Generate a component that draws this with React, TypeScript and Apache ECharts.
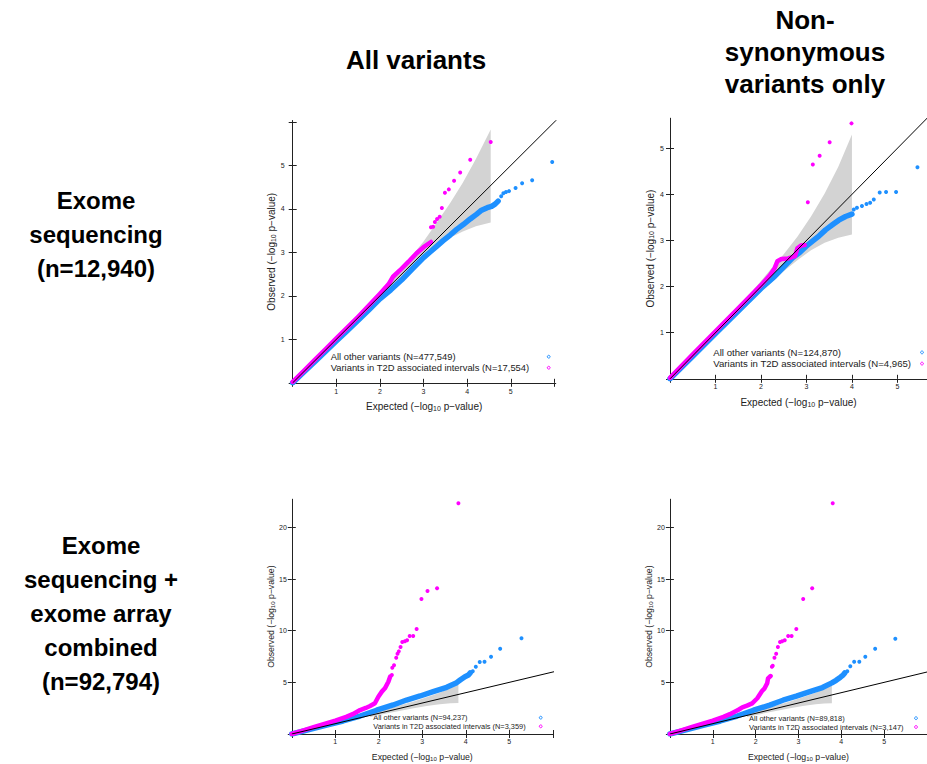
import React, { useEffect, useRef } from "react";
import * as echarts from "echarts";

// ---------- DATA ----------
// identity reference line y = x
const identityLine = [[0, 0], [30, 30]];

// Panel 1: Exome sequencing, all variants
const p1BlueDense = [[0,0],[0.25,0.24],[0.5,0.48],[0.75,0.72],[1.0,0.96],[1.25,1.2],[1.5,1.44],[1.75,1.68],[2.0,1.93],[2.25,2.14],[2.5,2.37],[2.75,2.63],[3.0,2.88],[3.15,3.01],[3.3,3.14],[3.45,3.27],[3.61,3.40],[3.76,3.53],[3.91,3.64],[4.07,3.77],[4.22,3.88],[4.33,3.97],[4.46,4.03],[4.56,4.06],[4.64,4.11],[4.71,4.18]];
const p1BlueSparse = [[4.78,4.29],[4.83,4.36],[4.89,4.39],[4.96,4.41],[5.11,4.48],[5.26,4.59],[5.49,4.66],[5.95,5.08]];
const p1MagDense = [[0,0.02],[0.25,0.27],[0.5,0.52],[0.75,0.77],[1.0,1.02],[1.25,1.27],[1.5,1.52],[1.75,1.78],[2.0,2.05],[2.2,2.27],[2.3,2.44],[2.46,2.59],[2.65,2.78],[2.84,2.98],[3.0,3.12],[3.17,3.24]];
const p1MagSparse = [[3.17,3.58],[3.22,3.59],[3.26,3.70],[3.31,3.77],[3.37,3.82],[3.42,4.02],[3.49,4.37],[3.58,4.45],[3.70,4.65],[3.84,4.84],[4.07,5.13],[4.54,5.54]];
const p1BandUpper = [[1.5,1.56],[2.0,2.08],[2.3,2.42],[2.6,2.76],[3.0,3.25],[3.3,3.68],[3.6,4.12],[3.9,4.6],[4.2,5.15],[4.54,5.83]];
const p1BandLower = [[1.5,1.44],[2.0,1.92],[2.3,2.2],[2.6,2.47],[3.0,2.86],[3.3,3.1],[3.6,3.33],[3.9,3.48],[4.2,3.6],[4.54,3.69]];

// Panel 2: Exome sequencing, non-synonymous variants only
const p2BlueDense = [[0,0],[0.5,0.49],[1.0,0.98],[1.5,1.47],[2.0,1.96],[2.3,2.22],[2.56,2.49],[2.70,2.63],[2.85,2.74],[2.99,2.87],[3.14,2.99],[3.28,3.10],[3.42,3.23],[3.57,3.34],[3.71,3.44],[3.86,3.52],[4.0,3.57]];
const p2BlueSparse = [[4.04,3.67],[4.11,3.71],[4.22,3.75],[4.32,3.79],[4.40,3.82],[4.48,3.89],[4.61,4.04],[4.75,4.05],[4.97,4.05],[5.44,4.59]];
const p2MagDense = [[0,0.02],[0.5,0.53],[1.0,1.03],[1.5,1.53],[2.0,2.03],[2.2,2.25],[2.3,2.4],[2.36,2.55],[2.45,2.6],[2.6,2.61],[2.75,2.66],[2.8,2.83],[2.88,2.89],[2.96,2.9]];
const p2MagSparse = [[3.03,3.83],[3.14,4.65],[3.29,4.84],[3.51,5.13],[3.99,5.54]];
const p2BandUpper = [[1.5,1.55],[1.9,2.0],[2.2,2.36],[2.5,2.7],[2.8,3.08],[3.1,3.52],[3.4,4.02],[3.7,4.6],[4.0,5.3]];
const p2BandLower = [[1.5,1.45],[1.9,1.82],[2.2,2.06],[2.5,2.33],[2.8,2.57],[3.1,2.79],[3.4,2.95],[3.7,3.06],[4.0,3.13]];

// Panel 3: Exome sequencing + exome array, all variants
const p3BlueDense = [[0,0],[0.42,0.45],[0.8,0.87],[1.18,1.26],[1.57,1.74],[1.95,2.30],[2.33,2.81],[2.64,3.29],[2.95,3.68],[3.25,4.10],[3.56,4.52],[3.79,4.97],[3.87,5.23],[3.98,5.55],[4.06,5.71],[4.10,5.91]];
const p3BlueSparse = [[4.16,6.07],[4.23,6.52],[4.32,6.97],[4.43,7.0],[4.58,7.48],[4.79,8.26],[5.28,9.26]];
const p3MagDense = [[0,0],[0.25,0.33],[0.5,0.66],[0.75,0.98],[1.0,1.3],[1.25,1.66],[1.4,1.92],[1.57,2.32],[1.7,2.52],[1.8,2.71],[1.91,2.97],[1.99,3.61],[2.07,4.10],[2.14,4.42],[2.22,5.06],[2.26,5.55]];
const p3MagSparse = [[2.30,5.71],[2.31,6.42],[2.35,6.65],[2.40,7.39],[2.43,7.77],[2.46,8.0],[2.50,8.42],[2.54,8.91],[2.60,8.97],[2.65,9.07],[2.71,9.49],[2.79,9.49],[2.87,10.16],[2.98,13.07],[3.12,13.84],[3.34,14.10],[3.83,22.33]];
const p3BandUpper = [[1.8,1.95],[2.2,2.42],[2.5,2.78],[2.8,3.15],[3.1,3.55],[3.4,4.0],[3.65,4.45],[3.83,4.85]];
const p3BandLower = [[1.8,1.65],[2.2,2.0],[2.5,2.25],[2.8,2.5],[3.1,2.72],[3.4,2.88],[3.65,2.97],[3.83,3.0]];

// Panel 4: Exome sequencing + exome array, non-synonymous only
const p4BlueDense = [[0,0],[0.42,0.45],[0.8,0.87],[1.18,1.26],[1.57,1.74],[1.95,2.30],[2.33,2.8],[2.64,3.27],[2.95,3.66],[3.25,4.08],[3.56,4.5],[3.78,4.95],[3.88,5.2],[3.98,5.5],[4.04,5.7],[4.08,5.91]];
const p4BlueSparse = [[4.14,6.07],[4.21,6.55],[4.30,7.0],[4.42,7.0],[4.56,7.48],[4.79,8.26],[5.26,9.22]];
const p4MagDense = [[0,0],[0.25,0.33],[0.5,0.66],[0.75,0.98],[1.0,1.3],[1.25,1.66],[1.4,1.92],[1.6,2.35],[1.69,2.58],[1.8,2.75],[1.92,2.97],[2.04,3.46],[2.15,4.16],[2.21,4.42],[2.27,4.91],[2.29,5.39],[2.35,5.61]];
const p4MagSparse = [[2.38,6.52],[2.40,6.61],[2.44,7.39],[2.48,7.77],[2.52,8.42],[2.57,8.91],[2.62,8.97],[2.68,9.07],[2.76,9.49],[2.84,9.49],[2.95,10.16],[3.11,13.07],[3.32,14.10],[3.80,22.33]];
const p4BandUpper = [[1.8,1.95],[2.2,2.42],[2.5,2.78],[2.8,3.15],[3.1,3.55],[3.4,4.0],[3.6,4.4],[3.78,4.82]];
const p4BandLower = [[1.8,1.65],[2.2,2.0],[2.5,2.25],[2.8,2.5],[3.1,2.72],[3.4,2.88],[3.6,2.96],[3.78,2.98]];

// Legend texts
const p1Legend = ["All other variants (N=477,549)", "Variants in T2D associated intervals (N=17,554)"];
const p2Legend = ["All other variants (N=124,870)", "Variants in T2D associated intervals (N=4,965)"];
const p3Legend = ["All other variants (N=94,237)", "Variants in T2D associated intervals (N=3,359)"];
const p4Legend = ["All other variants (N=89,818)", "Variants in T2D associated intervals (N=3,147)"];

// Axis ticks
const smallTicks = [0, 1, 2, 3, 4, 5, 6];
const smallLabels = [1, 2, 3, 4, 5];
const bigTicks = [0, 5, 10, 15, 20];
const bigLabels = [5, 10, 15, 20];

// Titles
const colTitles = ["All variants", "Non-\nsynonymous\nvariants only"];
const rowTitles = ["Exome\nsequencing\n(n=12,940)", "Exome\nsequencing +\nexome array\ncombined\n(n=92,794)"];

const BLUE = "#1E90FF";
const MAG = "#FF00FF";
const BAND = "#D3D3D3";
const FONT = "'Liberation Sans', Arial, Helvetica, sans-serif";

// ---------- LAYOUT ----------
const panels = [
  {
    grid: { left: 292.7, top: 120.7, width: 263, height: 262.1 },
    xMax: 6.03, yMax: 6.03, yInt: 1, yTicks: smallTicks, yLabels: smallLabels,
    blueDense: p1BlueDense, blueSparse: p1BlueSparse, magDense: p1MagDense, magSparse: p1MagSparse,
    upper: p1BandUpper, lower: p1BandLower, legend: p1Legend,
    legX: 330.7, legMid: 362.2, legGap: 11, legFs: 9.4, symX: 548.7,
    nameFs: 10, tickFs: 7, xLabMargin: 5, yLabMargin: 8, nameGap: 15,
  },
  {
    grid: { left: 670, top: 118.3, width: 261.3, height: 260.5 },
    xMax: 5.65, yMax: 5.65, yInt: 1, yTicks: smallTicks, yLabels: smallLabels,
    blueDense: p2BlueDense, blueSparse: p2BlueSparse, magDense: p2MagDense, magSparse: p2MagSparse,
    upper: p2BandUpper, lower: p2BandLower, legend: p2Legend,
    legX: 713.3, legMid: 358, legGap: 11.2, legFs: 9.6, symX: 922,
    nameFs: 10, tickFs: 7, xLabMargin: 4.5, yLabMargin: 6, nameGap: 15,
  },
  {
    grid: { left: 291.8, top: 499.3, width: 261, height: 234.7 },
    xMax: 6, yMax: 22.72, yInt: 5, yTicks: bigTicks, yLabels: bigLabels,
    blueDense: p3BlueDense, blueSparse: p3BlueSparse, magDense: p3MagDense, magSparse: p3MagSparse,
    upper: p3BandUpper, lower: p3BandLower, legend: p3Legend,
    legX: 373.3, legMid: 722, legGap: 8.7, legFs: 7.4, symX: 540.7,
    nameFs: 8.7, tickFs: 7, xLabMargin: 3.5, yLabMargin: 5, nameGap: 15,
  },
  {
    grid: { left: 669.9, top: 499.3, width: 260.4, height: 234.7 },
    xMax: 6, yMax: 22.72, yInt: 5, yTicks: bigTicks, yLabels: bigLabels,
    blueDense: p4BlueDense, blueSparse: p4BlueSparse, magDense: p4MagDense, magSparse: p4MagSparse,
    upper: p4BandUpper, lower: p4BandLower, legend: p4Legend,
    legX: 749, legMid: 722.6, legGap: 8.8, legFs: 7.5, symX: 916,
    nameFs: 8.7, tickFs: 7, xLabMargin: 3.5, yLabMargin: 5, nameGap: 15,
  },
];

function richName(prefix: string, suffix: string, fs: number) {
  return {
    text: `{n|${prefix}}{s|10}{n|${suffix}}`,
    rich: {
      n: { fontSize: fs, lineHeight: fs + 4, verticalAlign: "bottom", fontFamily: FONT, color: "#222" },
      s: { fontSize: fs * 0.7, lineHeight: fs * 0.8, verticalAlign: "bottom", fontFamily: FONT, color: "#222" },
    },
  };
}

function buildOption() {
  const grids: any[] = [];
  const xAxes: any[] = [];
  const yAxes: any[] = [];
  const series: any[] = [];
  const graphics: any[] = [];

  panels.forEach((p, i) => {
    grids.push({ ...p.grid, containLabel: false });
    const axisLine = { show: true, lineStyle: { color: "#222", width: 1 } };
    const tickStyle = { lineStyle: { color: "#222", width: 1 } };
    const xName = richName("Expected (−log", " p−value)", p.nameFs);
    const yName = richName("Observed (−log", " p−value)", p.nameFs);
    // bottom x
    xAxes.push({
      type: "value", gridIndex: i, min: 0, max: p.xMax, interval: 1, position: "bottom",
      axisLine, splitLine: { show: false },
      axisTick: { show: true, length: 4, inside: false, ...tickStyle, customValues: smallTicks },
      axisLabel: {
        show: true, fontSize: p.tickFs, color: "#222", fontFamily: FONT, margin: p.xLabMargin,
        customValues: smallLabels,
        formatter: (v: number) => (smallLabels.indexOf(v) >= 0 ? String(v) : ""),
      },
      name: xName.text, nameLocation: "middle", nameGap: p.nameGap,
      nameTextStyle: { rich: xName.rich, fontFamily: FONT, color: "#222" },
    });
    // top x
    xAxes.push({
      type: "value", gridIndex: i, min: 0, max: p.xMax, interval: 1, position: "top",
      axisLine, splitLine: { show: false },
      axisTick: { show: true, length: 4, inside: false, ...tickStyle, customValues: smallTicks },
      axisLabel: { show: false },
    });
    // left y
    yAxes.push({
      type: "value", gridIndex: i, min: 0, max: p.yMax, interval: p.yInt, position: "left",
      axisLine, splitLine: { show: false },
      axisTick: { show: true, length: 4, inside: false, ...tickStyle, customValues: p.yTicks },
      axisLabel: {
        show: true, fontSize: p.tickFs, color: "#222", fontFamily: FONT, margin: p.yLabMargin,
        customValues: p.yLabels,
        formatter: (v: number) => (p.yLabels.indexOf(v) >= 0 ? String(v) : ""),
      },
      name: yName.text, nameLocation: "middle", nameGap: p.nameGap,
      nameTextStyle: { rich: yName.rich, fontFamily: FONT, color: "#222" },
    });
    // right y
    yAxes.push({
      type: "value", gridIndex: i, min: 0, max: p.yMax, interval: p.yInt, position: "right",
      axisLine, splitLine: { show: false },
      axisTick: { show: true, length: 4, inside: false, ...tickStyle, customValues: p.yTicks },
      axisLabel: { show: false },
    });

    const xi = i * 2;
    const yi = i * 2;
    const upper = p.upper;
    const lower = p.lower;
    series.push({
      type: "custom", xAxisIndex: xi, yAxisIndex: yi, clip: true, z: 1, silent: true,
      data: upper, encode: { x: 0, y: 1 },
      renderItem: (params: any, api: any) => {
        if (params.dataIndex !== 0) return null;
        const pts = [...upper, ...lower.slice().reverse()].map((d) => api.coord(d));
        return { type: "polygon", shape: { points: pts }, style: { fill: BAND, stroke: "none" } };
      },
    });
    series.push({
      type: "line", name: p.legend[0], xAxisIndex: xi, yAxisIndex: yi, data: p.blueDense,
      showSymbol: false, symbol: "none", z: 3, clip: true,
      lineStyle: { color: BLUE, width: 5.5, cap: "round", join: "round" },
    });
    series.push({
      type: "scatter", name: p.legend[0], xAxisIndex: xi, yAxisIndex: yi, data: p.blueSparse,
      symbol: "circle", symbolSize: 4, z: 3, itemStyle: { color: BLUE, opacity: 1 },
    });
    series.push({
      type: "line", name: p.legend[1], xAxisIndex: xi, yAxisIndex: yi, data: p.magDense,
      showSymbol: false, symbol: "none", z: 4, clip: true,
      lineStyle: { color: MAG, width: 4.5, cap: "round", join: "round" },
    });
    series.push({
      type: "scatter", name: p.legend[1], xAxisIndex: xi, yAxisIndex: yi, data: p.magSparse,
      symbol: "circle", symbolSize: 4, z: 4, itemStyle: { color: MAG, opacity: 1 },
    });
    series.push({
      type: "line", xAxisIndex: xi, yAxisIndex: yi, data: identityLine,
      showSymbol: false, symbol: "none", z: 5, clip: true, silent: true,
      lineStyle: { color: "#000", width: 1 },
    });

    // legend: text lines + open circle markers
    p.legend.forEach((t, k) => {
      const cy = p.legMid + (k - 0.5) * p.legGap;
      graphics.push({
        type: "text", x: p.legX, y: cy, silent: true,
        style: {
          text: t, fontSize: p.legFs, fontFamily: FONT, fill: "#222",
          align: "left", verticalAlign: "middle",
        },
      });
      graphics.push({
        type: "circle", shape: { cx: p.symX, cy, r: 1.4 }, silent: true,
        style: { fill: "none", stroke: k === 0 ? BLUE : MAG, lineWidth: 1 },
      });
    });
  });

  // titles
  const titleStyle = { fontWeight: "bold", fontFamily: FONT, fill: "#000", align: "center", verticalAlign: "middle" };
  graphics.push({ type: "text", x: 416, y: 60, style: { ...titleStyle, fontSize: 26, text: colTitles[0], lineHeight: 33 } });
  graphics.push({ type: "text", x: 805, y: 52, style: { ...titleStyle, fontSize: 26, text: colTitles[1], lineHeight: 32 } });
  graphics.push({ type: "text", x: 96, y: 234, style: { ...titleStyle, fontSize: 24, text: rowTitles[0], lineHeight: 34 } });
  graphics.push({ type: "text", x: 101, y: 613, style: { ...titleStyle, fontSize: 24, text: rowTitles[1], lineHeight: 34 } });

  return {
    animation: false,
    backgroundColor: "#fff",
    grid: grids,
    xAxis: xAxes,
    yAxis: yAxes,
    series,
    graphic: graphics,
  };
}

export default function App() {
  const ref = useRef<HTMLDivElement>(null);
  useEffect(() => {
    if (!ref.current) return;
    const chart = echarts.init(ref.current, undefined, { renderer: "svg" });
    chart.setOption(buildOption() as any);
    return () => chart.dispose();
  }, []);
  return (
    <div
      ref={ref}
      style={{ position: "absolute", left: 0, top: 0, width: 927, height: 764, background: "#fff" }}
    />
  );
}
